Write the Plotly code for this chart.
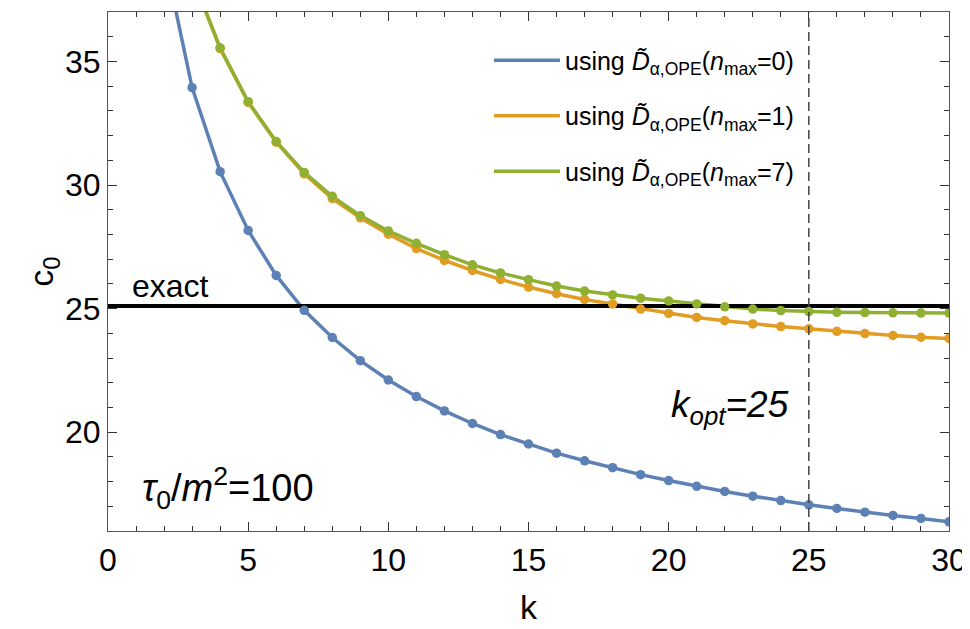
import plotly.graph_objects as go

# ---- data ----
k_blue = list(range(2, 31))
c0_nmax0 = [39.3, 33.94, 30.54, 28.16, 26.34, 24.93, 23.83, 22.89, 22.11, 21.44,
            20.86, 20.35, 19.90, 19.52, 19.15, 18.84, 18.56, 18.28, 18.04, 17.81,
            17.60, 17.41, 17.23, 17.06, 16.91, 16.76, 16.63, 16.51, 16.37]

k_ope = list(range(3, 31))
c0_nmax1 = [38.42, 35.52, 33.34, 31.73, 30.45, 29.45, 28.67, 28.01, 27.43, 26.95,
            26.54, 26.18, 25.87, 25.60, 25.37, 25.19, 24.98, 24.80, 24.64, 24.51,
            24.38, 24.27, 24.18, 24.08, 23.99, 23.91, 23.84, 23.79]
c0_nmax7 = [38.45, 35.55, 33.37, 31.76, 30.51, 29.54, 28.76, 28.14, 27.64, 27.18,
            26.77, 26.44, 26.17, 25.91, 25.71, 25.55, 25.42, 25.31, 25.19, 25.07,
            24.98, 24.92, 24.88, 24.85, 24.84, 24.83, 24.82, 24.82]

c0_exact = 25.1
k_opt = 25
x_range = [0, 30]
y_range = [16, 37]
x_ticks = [0, 5, 10, 15, 20, 25, 30]
y_ticks = [20, 25, 30, 35]

series = [
    ("using <i>D̃</i><sub>α,OPE</sub>(<i>n</i><sub>max</sub>=0)", k_blue, c0_nmax0, "#5E81B5"),
    ("using <i>D̃</i><sub>α,OPE</sub>(<i>n</i><sub>max</sub>=1)", k_ope, c0_nmax1, "#E19C24"),
    ("using <i>D̃</i><sub>α,OPE</sub>(<i>n</i><sub>max</sub>=7)", k_ope, c0_nmax7, "#8FB032"),
]

FONT = "Liberation Sans, Arial, sans-serif"
fig = go.Figure()

# lines (with legend)
for i, (name, xs, ys, col) in enumerate(series):
    fig.add_trace(go.Scatter(x=xs, y=ys, mode="lines", name=name,
                             line=dict(color=col, width=3.5),
                             legendgroup=f"g{i}", showlegend=True))

# exact line
fig.add_trace(go.Scatter(x=x_range, y=[c0_exact, c0_exact], mode="lines",
                         line=dict(color="black", width=4), showlegend=False,
                         hoverinfo="skip"))

# markers on top
for i, (name, xs, ys, col) in enumerate(series):
    fig.add_trace(go.Scatter(x=xs, y=ys, mode="markers", name=name,
                             marker=dict(color=col, size=9.5),
                             legendgroup=f"g{i}", showlegend=False))

# dummy trace for the mirrored (top/right) tick axes
fig.add_trace(go.Scatter(x=[None], y=[None], xaxis="x2", yaxis="y2",
                         showlegend=False, hoverinfo="skip"))

fig.add_shape(type="line", x0=k_opt, x1=k_opt, y0=0, y1=1, xref="x", yref="y domain",
              line=dict(color="#444444", width=1.5, dash="9px,5px"))

fig.add_annotation(x=0.78, y=25.9, text="exact", showarrow=False, xanchor="left",
                   yanchor="middle", font=dict(size=32, color="black", family=FONT))
fig.add_annotation(x=1.15, y=17.75, text="<i>τ</i><sub>0</sub>/<i>m</i><sup>2</sup>=100",
                   showarrow=False, xanchor="left", yanchor="middle",
                   font=dict(size=38, color="black", family=FONT))
fig.add_annotation(x=22.2, y=21.0, text="<i>k<sub>opt</sub>=25</i>", showarrow=False,
                   xanchor="center", yanchor="middle",
                   font=dict(size=37, color="black", family=FONT))

tickcol = "#333333"
axis_common = dict(showline=True, linecolor="#555555", linewidth=1.2,
                   ticks="inside", ticklen=9, tickwidth=1.2, tickcolor=tickcol,
                   showgrid=False, zeroline=False, automargin=False,
                   tickfont=dict(size=32, color="black", family=FONT))
minor = dict(ticks="inside", dtick=1, ticklen=5, tickcolor=tickcol,
             tickwidth=1, showgrid=False)

fig.update_layout(
    xaxis=dict(range=x_range, tickvals=x_ticks, minor=minor,
               title=dict(text="k", font=dict(size=34, color="black", family=FONT),
                          standoff=18),
               **axis_common),
    yaxis=dict(range=y_range, tickvals=y_ticks, minor=minor,
               title=dict(text="c<sub>0</sub>", font=dict(size=34, color="black", family=FONT),
                          standoff=1),
               **axis_common),
    xaxis2=dict(range=x_range, tickvals=x_ticks, minor=minor, overlaying="x",
                side="top", anchor="y", showticklabels=False,
                **{k: v for k, v in axis_common.items() if k != "tickfont"}),
    yaxis2=dict(range=y_range, tickvals=y_ticks, minor=minor, overlaying="y",
                side="right", anchor="x", showticklabels=False,
                **{k: v for k, v in axis_common.items() if k != "tickfont"}),
    width=962, height=621,
    margin=dict(l=100, r=21, t=4, b=98),
    paper_bgcolor="white", plot_bgcolor="white",
    font=dict(family=FONT, color="black"),
    showlegend=True,
    legend=dict(x=0.453, y=0.951, xanchor="left", yanchor="top",
                bgcolor="rgba(0,0,0,0)", font=dict(size=25, color="black", family=FONT),
                tracegroupgap=20, itemwidth=66),
)

fig.write_html("out.html")
